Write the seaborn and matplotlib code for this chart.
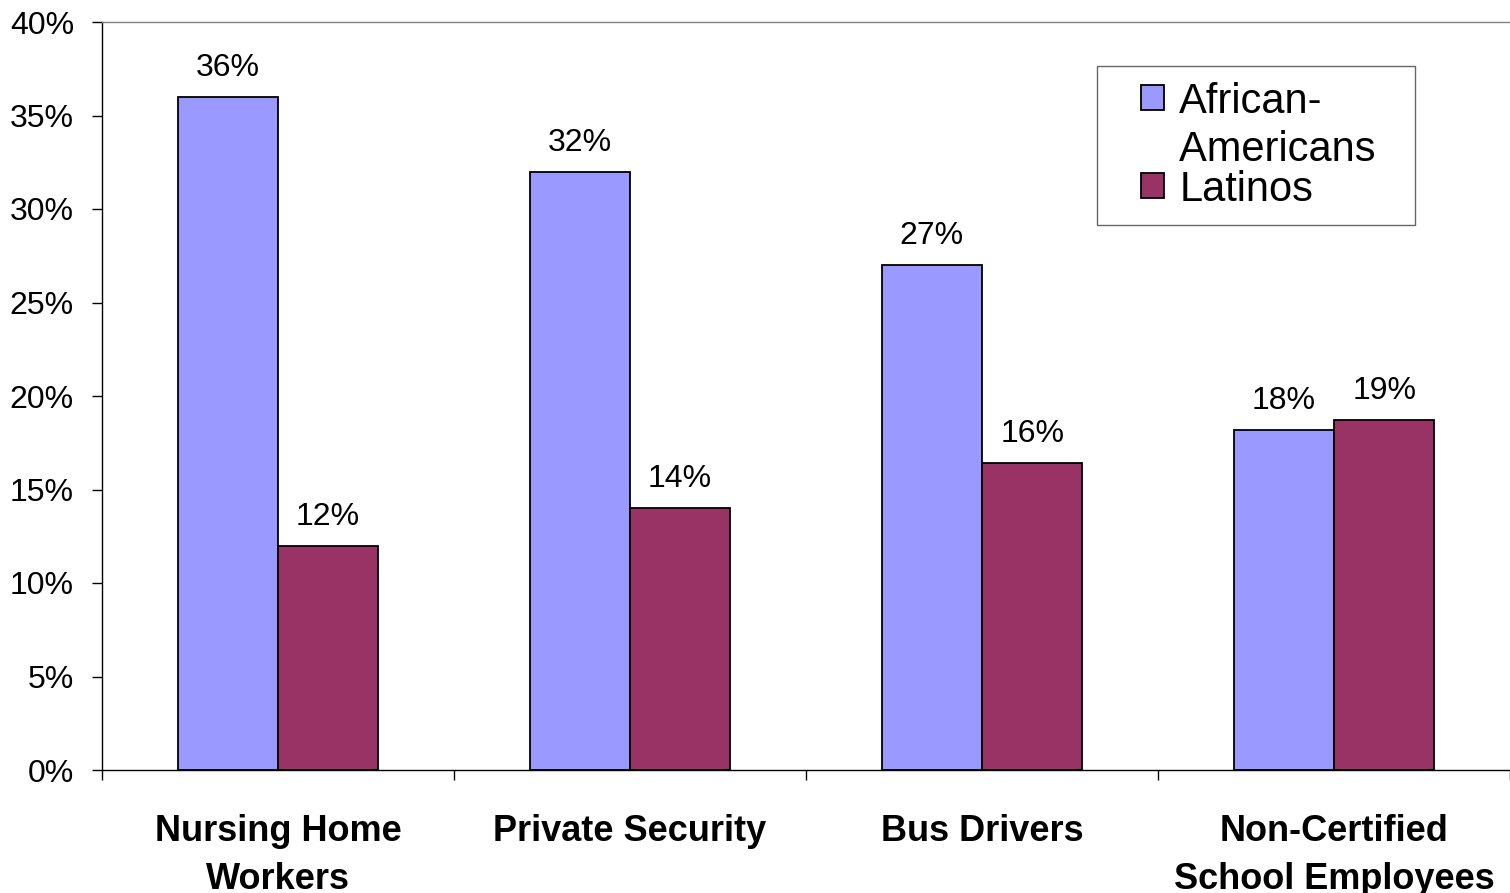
import matplotlib
matplotlib.use("Agg")
import matplotlib.pyplot as plt
from matplotlib.legend_handler import HandlerPatch
import seaborn as sns
import pandas as pd

# Share of workers in each occupation, by group (percent)
categories = ["Nursing Home\nWorkers", "Private Security", "Bus Drivers",
              "Non-Certified\nSchool Employees"]
groups = ["African-\nAmericans  ", "Latinos"]
african_american = [36.0, 32.0, 27.0, 18.2]
latino = [12.0, 14.0, 16.4, 18.7]
y_ticks = [0, 5, 10, 15, 20, 25, 30, 35, 40]

df = pd.DataFrame({
    "occupation": categories * 2,
    "group": [groups[0]] * len(categories) + [groups[1]] * len(categories),
    "share": african_american + latino,
})

sns.set_theme(style="white")
plt.rcParams["font.family"] = ["Liberation Sans", "DejaVu Sans"]
plt.rcParams.update({"text.color": "black", "axes.labelcolor": "black",
                     "xtick.color": "black", "ytick.color": "black"})

fig = plt.figure(figsize=(15.10, 8.93), dpi=100)
ax = fig.add_axes([102 / 1510, 123 / 893, 1408 / 1510, 748 / 893])

palette = {groups[0]: "#9999FF", groups[1]: "#993366"}
sns.barplot(data=df, x="occupation", y="share", hue="group", order=categories,
            hue_order=groups, palette=palette, width=0.57, saturation=1,
            edgecolor="black", linewidth=1.3, ax=ax, legend=True)

for cont in ax.containers:
    ax.bar_label(cont, fmt="{:.0f}%", padding=10, fontsize=23, color="black")

ax.set_ylim(0, 40)
ax.set_yticks(y_ticks)
ax.set_yticklabels([f"{t}%" for t in y_ticks], fontsize=23)
ax.set_xlim(-0.5, len(categories) - 0.5)
ax.set_xticks([i - 0.5 for i in range(len(categories) + 1)])
ax.set_xticklabels([""] * (len(categories) + 1))
ax.set_xticks(range(len(categories)), minor=True)
ax.set_xticklabels(categories, minor=True, fontsize=26, fontweight="bold",
                   linespacing=1.45)
ax.tick_params(axis="x", which="minor", length=0, pad=32)
ax.tick_params(axis="both", which="major", direction="out", length=7.2,
               width=1, color="black", labelcolor="black", left=True,
               bottom=True)
ax.tick_params(axis="x", which="minor", labelcolor="black")
ax.tick_params(axis="y", pad=13)
ax.set_xlabel("")
ax.set_ylabel("")

for side in ("left", "bottom"):
    ax.spines[side].set_color("black")
    ax.spines[side].set_linewidth(1)
ax.spines["top"].set_color("#808080")
ax.spines["top"].set_linewidth(1)
ax.spines["right"].set_visible(False)


class SquareHandler(HandlerPatch):
    """Square legend key, optionally raised to sit beside the first text line."""

    def __init__(self, raise_by=0.0, **kw):
        super().__init__(**kw)
        self.raise_by = raise_by

    def create_artists(self, legend, orig_handle, xdescent, ydescent,
                       width, height, fontsize, trans):
        return super().create_artists(legend, orig_handle, xdescent,
                                      ydescent - self.raise_by, width, height,
                                      fontsize, trans)


handles, labels = ax.get_legend_handles_labels()
key_pad = 0.68
handler_map = {handles[0]: SquareHandler(raise_by=21, xpad=key_pad),
               handles[1]: SquareHandler(raise_by=0, xpad=key_pad)}
leg = ax.legend(handles, labels, loc="upper right",
                bbox_to_anchor=(0.9325, 0.9412), borderaxespad=0,
                fontsize=30, frameon=True, fancybox=False,
                handlelength=0.55 + key_pad, handleheight=0.55,
                handletextpad=0.36, borderpad=0.38, labelspacing=0.0,
                handler_map=handler_map)
leg.get_frame().set_edgecolor("#404040")
leg.get_frame().set_linewidth(1)
for t in leg.get_texts():
    t.set_linespacing(1.25)
    t.set_color("black")

fig.savefig("out.png", dpi=100)
